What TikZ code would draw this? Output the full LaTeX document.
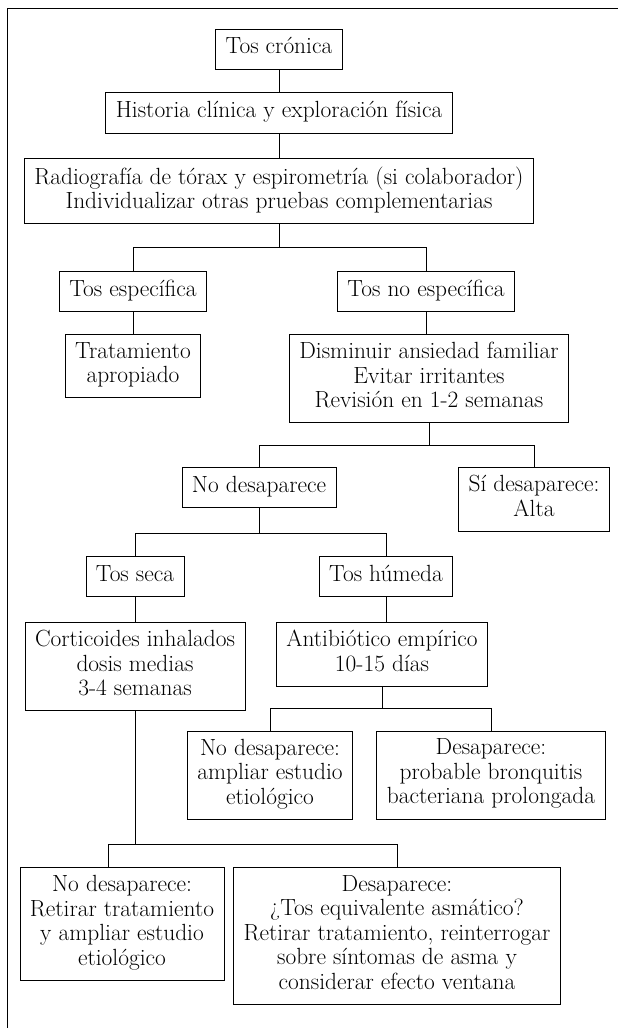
\documentclass[tikz,border=0pt]{standalone}
\usetikzlibrary{positioning}

\begin{document}
\begin{tikzpicture}[line width=0.8pt,
	caja/.style={draw, align=center, inner xsep=10pt, inner ysep=7.8pt,
		font=\fontsize{23.4}{24.5}\selectfont,
		execute at begin node=\strut, execute at end node=\strut}]
		\useasboundingbox (0,0) rectangle (618pt,-1028pt);
		\draw (618pt,-8pt) -- (7pt,-8pt) -- (7pt,-1028pt);
		
		\node[caja] (tos) at (279pt,-49pt) {Tos crónica};
		\node[caja, below=23pt of tos] (hist) {Historia clínica y exploración física};
		\node[caja, below=25pt of hist] (rx) {Radiografía de tórax y espirometría (si colaborador)\\Individualizar otras pruebas complementarias};
		
		\node[caja, below=47pt of rx, xshift=-146pt] (esp) {Tos específica};
		\node[caja, below=47pt of rx, xshift=147pt] (noesp) {Tos no específica};
		\node[caja, below=22pt of esp] (trat) {Tratamiento\\apropiado};
		\node[caja, below=22pt of noesp, xshift=3pt] (med) {Disminuir ansiedad familiar\\Evitar irritantes\\Revisión en 1-2 semanas};
		
		\node[caja, below=44pt of med, xshift=-170pt] (nod) {No desaparece};
		\node[caja, below=44pt of med, xshift=105pt] (sid) {Sí desaparece:\\Alta};
		
		\node[caja, below=48pt of nod, xshift=-124pt] (seca) {Tos seca};
		\node[caja, below=48pt of nod, xshift=127pt] (hum) {Tos húmeda};
		\node[caja, below=25pt of seca] (cort) {Corticoides inhalados\\dosis medias\\3-4 semanas};
		\node[caja, below=25pt of hum, xshift=-4pt] (atb) {Antibiótico empírico\\10-15 días};
		
		\node[caja, below=44pt of atb, xshift=-112pt] (noamp) {No desaparece:\\ampliar estudio\\etiológico};
		\node[caja, below=44pt of atb, xshift=109pt] (bron) {Desaparece:\\probable bronquitis\\bacteriana prolongada};
		
		\node[caja, below=156pt of cort, xshift=-13pt] (noret) {No desaparece:\\Retirar tratamiento\\y ampliar estudio\\etiológico};
		\node[caja, below=156pt of cort, xshift=262pt] (asma) {Desaparece:\\¿Tos equivalente asmático?\\Retirar tratamiento, reinterrogar\\sobre síntomas de asma y\\considerar efecto ventana};
		
		\draw (tos) -- (hist);
		\draw (hist) -- (rx);
		\draw (esp.north) -- ++(0,24pt) coordinate (r1) -| (noesp.north);
		\draw (rx) -- (rx |- r1);
		\draw (esp) -- (trat);
		\draw (noesp) -- (noesp |- med.north);
		\draw (nod.north) -- ++(0,22pt) coordinate (r2) -| (sid.north);
		\draw (med) -- (med |- r2);
		\draw (seca.north) -- ++(0,23pt) coordinate (r3) -| (hum.north);
		\draw (nod) -- (nod |- r3);
		\draw (seca) -- (cort);
		\draw (hum) -- (hum |- atb.north);
		\draw (noamp.north) -- ++(0,22pt) coordinate (r4) -| (bron.north);
		\draw (atb) -- (atb |- r4);
		\draw ([xshift=-14pt]noret.north) -- ++(0,23pt) coordinate (r5) -| (asma.north);
		\draw (cort) -- (cort |- r5);
	\end{tikzpicture}
\end{document}
